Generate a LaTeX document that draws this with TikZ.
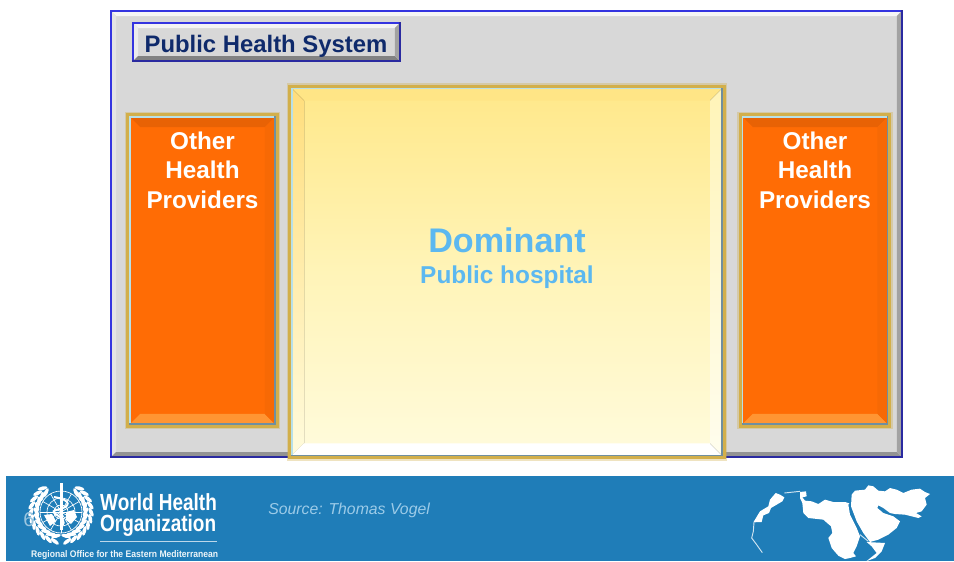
\documentclass[tikz,border=0pt]{standalone}
\usepackage{fontspec}
\setmainfont{Liberation Sans}
\usepackage{tikz}
\usetikzlibrary{calc,positioning}

\definecolor{bannerblue}{HTML}{1F7DB8}
\definecolor{systemgray}{HTML}{D8D8D8}
\definecolor{frameblue}{HTML}{3434E0}
\definecolor{framedark}{HTML}{2A2AA0}
\definecolor{titleblue}{HTML}{0F2A6B}
\definecolor{glowgold}{HTML}{D2AF4B}
\definecolor{rimlight}{HTML}{B8E0E8}
\definecolor{rimdark}{HTML}{6F8FA0}
\definecolor{hospitaltext}{HTML}{5CB8F0}
\definecolor{sourcetext}{HTML}{9CCBE8}
\definecolor{orangefill}{HTML}{FF6C05}
\definecolor{orangelight}{HTML}{FF9533}
\definecolor{hospitaltop}{HTML}{FFE88A}
\definecolor{hospitalmid}{HTML}{FFF4B8}
\definecolor{hospitalend}{HTML}{FFFBDC}

\tikzset{
	panel/.style={rectangle, inner sep=0pt, outer sep=0pt},
	glowing/.style={preaction={draw=glowgold, opacity=.35, line width=8pt},
		preaction={draw=glowgold, line width=5.5pt}},
	system/.style={panel, fill=systemgray},
	titlebox/.style={panel, fill=systemgray},
	provider/.style={panel, glowing, fill=orangefill},
	hospital/.style={panel, glowing, top color=hospitaltop, bottom color=hospitalend, middle color=hospitalmid},
	boxtext/.style={align=center, text=white, font=\bfseries\fontsize{18.2}{22}\selectfont},
	leaf/.style={fill=white, draw=none},
	logoline/.style={draw=white, line width=.5pt}
}

% bevel: node, depth, top, left, bottom, right
\newcommand{\bevel}[6]{
	\fill[#3] (#1.north west) -- (#1.north east) -- ($(#1.north east)+(-#2,#2)$) -- ($(#1.north west)+(#2,#2)$) -- cycle;
	\fill[#4] (#1.north west) -- (#1.south west) -- ($(#1.south west)+(#2,-#2)$) -- ($(#1.north west)+(#2,#2)$) -- cycle;
	\fill[#5] (#1.south west) -- (#1.south east) -- ($(#1.south east)+(-#2,-#2)$) -- ($(#1.south west)+(#2,-#2)$) -- cycle;
	\fill[#6] (#1.north east) -- (#1.south east) -- ($(#1.south east)+(-#2,-#2)$) -- ($(#1.north east)+(-#2,#2)$) -- cycle;
}
% rim: node, width, top left colour, bottom right colour
\newcommand{\rim}[4]{
	\draw[#3, line width=#2, line cap=rect] (#1.south west) -- (#1.north west) -- (#1.north east);
	\draw[#4, line width=#2, line cap=rect] (#1.north east) -- (#1.south east) -- (#1.south west);
}

\begin{document}
\begin{tikzpicture}[x=.75pt, y=-.75pt]
	\useasboundingbox (0,0) rectangle (954,561);

	\node [system, minimum width=593.2pt, minimum height=334.5pt] (system) at (506.5,234) {};
	\bevel{system}{5}{white!75!systemgray}{white!30!systemgray}{black!32!systemgray}{black!25!systemgray}
	\rim{system}{1.9pt}{frameblue}{framedark}

	\node [titlebox, minimum width=200pt, minimum height=28.5pt] (titlebox) at (266.5,42) {};
	\bevel{titlebox}{5}{white!70!systemgray}{white!50!systemgray}{black!40!systemgray}{black!25!systemgray}
	\rim{titlebox}{1.7pt}{frameblue}{framedark}
	\node [text=titleblue, font=\bfseries\fontsize{17.9}{20}\selectfont] (titletext) at (266,46.5) {Public Health System};

	\node [provider, minimum width=108.7pt, minimum height=230.2pt] (leftbox) at (202.5,270.5) {};
	\bevel{leftbox}{10}{black!9!orangefill}{orangefill}{orangelight}{black!3!orangefill}
	\rim{leftbox}{1.1pt}{rimlight}{rimdark}
	\node [boxtext] (lefttext) at (202.5,170) {Other\\Health\\Providers};

	\node [provider, minimum width=108.7pt, minimum height=230.2pt] (rightbox) at (815,270.5) {};
	\bevel{rightbox}{10}{black!9!orangefill}{orangefill}{orangelight}{black!3!orangefill}
	\rim{rightbox}{1.1pt}{rimlight}{rimdark}
	\node [boxtext] (righttext) at (815,170) {Other\\Health\\Providers};

	\node [hospital, minimum width=322.5pt, minimum height=275.2pt] (hospital) at (507,272) {};
	\bevel{hospital}{12}{hospitaltop!97!orange}{top color=hospitaltop!90!orange, bottom color=hospitalend}{white}{top color=hospitalmid, bottom color=hospitalend!50!white}
	\rim{hospital}{1.1pt}{rimlight}{rimdark}
	\node [text=hospitaltext, font=\bfseries\fontsize{25.6}{28}\selectfont] (dominant) at (507,240) {Dominant};
	\node [text=hospitaltext, font=\bfseries\fontsize{18.3}{20}\selectfont] (publichospital) at (507,277.5) {Public hospital};

	% banner
	\node [panel, fill=bannerblue, minimum width=711pt, minimum height=63.8pt] (banner) at (480,518.5) {};
	\node [text=sourcetext, font=\itshape\fontsize{11.85}{13}\selectfont, inner sep=0pt, anchor=west] (source) at (268,510) {Source: Thomas Vogel};

	% emblem
	\foreach \r in {7,14,21}
		\draw [logoline] (61,512) circle (\r);
	\foreach \a in {0,30,...,150}
		\draw [logoline] ($(61,512)+(\a:21)$) -- ($(61,512)+(\a+180:21)$);
	\foreach \s in {1,-1}
		\foreach \t in {12,25,...,145}{
			\fill [leaf, shift={({61+\s*30*sin(\t)},{512+30*cos(\t)})}, rotate=\s*(\t+25)] (0,0) ellipse (5 and 1.9);
			\fill [leaf, shift={({61+\s*24.5*sin(\t)},{512+24.5*cos(\t)})}, rotate=\s*(\t-25)] (0,0) ellipse (5 and 1.9);
		}
	\fill [white] (59.5,483) -- (62.5,483) -- (62.5,530) -- (59.5,530) -- cycle;
	\draw [white, line width=1.5pt] (54,497) .. controls (72,500) and (72,507) .. (56,510) .. controls (46,513) and (70,517) .. (62,526);
	\fill [white] (66,512) -- (74,510) -- (77,517) -- (71,524) -- (66,520) -- cycle;
	\fill [white] (44,515) -- (52,514) -- (56,521) -- (50,526) -- cycle;

	\node [text=bannerblue!45!white, font=\fontsize{15}{17}\selectfont] (slidenum) at (29,520) {6};

	\node [text=white, font=\bfseries\fontsize{17.5}{19}\selectfont, xscale=.813, inner sep=0pt, anchor=west] (worldhealth) at (100,502) {World Health};
	\node [text=white, font=\bfseries\fontsize{17.5}{19}\selectfont, xscale=.813, inner sep=0pt, anchor=west] (organization) at (100,525.5) {Organization};
	\coordinate (rulestart) at (100,541.5);
	\coordinate (ruleend) at (217,541.5);
	\draw [white!70!bannerblue, line width=.8pt] (rulestart) -- (ruleend);
	\node [text=white!92!bannerblue, font=\bfseries\fontsize{7.2}{9}\selectfont, xscale=.894, inner sep=0pt, anchor=west] (regional) at (31,555) {Regional Office for the Eastern Mediterranean};

	% map
	\begin{scope}[shift={(720,470)}, x=.25pt, y=-.25pt]
		\fill [white] (100,157) -- (120,124) -- (145,109) -- (150,89) -- (167,69) -- (180,74) -- (193,82) -- (187,94) -- (170,104) -- (153,114) -- (147,129) -- (130,136) -- (125,156) -- cycle;
		\fill [white] (240,66) -- (258,64) -- (260,79) -- (247,82) -- (255,92) -- (275,94) -- (295,102) -- (315,89) -- (340,96) -- (375,96) -- (388,100) -- (385,104) -- (390,134) -- (410,174) -- (420,199) -- (410,229) -- (400,249) -- (408,259) -- (390,264) -- (375,267) -- (355,257) -- (335,234) -- (325,204) -- (337,189) -- (333,169) -- (310,149) -- (265,144) -- (250,129) -- (247,99) -- (240,84) -- cycle;
		\fill [white] (393,109) -- (395,74) -- (405,62) -- (435,59) -- (445,46) -- (460,49) -- (475,62) -- (495,64) -- (510,54) -- (530,59) -- (550,69) -- (575,59) -- (600,56) -- (615,66) -- (630,72) -- (615,84) -- (620,104) -- (605,124) -- (588,129) -- (605,139) -- (595,144) -- (575,139) -- (555,134) -- (525,132) -- (510,129) -- (490,114) -- (475,106) -- (472,114) -- (490,129) -- (520,139) -- (540,154) -- (530,174) -- (505,194) -- (475,209) -- (450,216) -- (430,189) -- (410,154) -- cycle;
		\fill [white] (440,216) -- (495,219) -- (485,244) -- (465,264) -- (440,273) -- (470,249) -- (455,229) -- cycle;
		\draw [white!80!bannerblue, line width=.7pt] (102,157) -- (100,184) -- (95,204) -- (110,224) -- (127,248);
		\draw [white!80!bannerblue, line width=.7pt] (193,69) -- (240,64);
		\draw [white!80!bannerblue, line width=.7pt] (420,194) -- (445,214);
	\end{scope}
\end{tikzpicture}
\end{document}
